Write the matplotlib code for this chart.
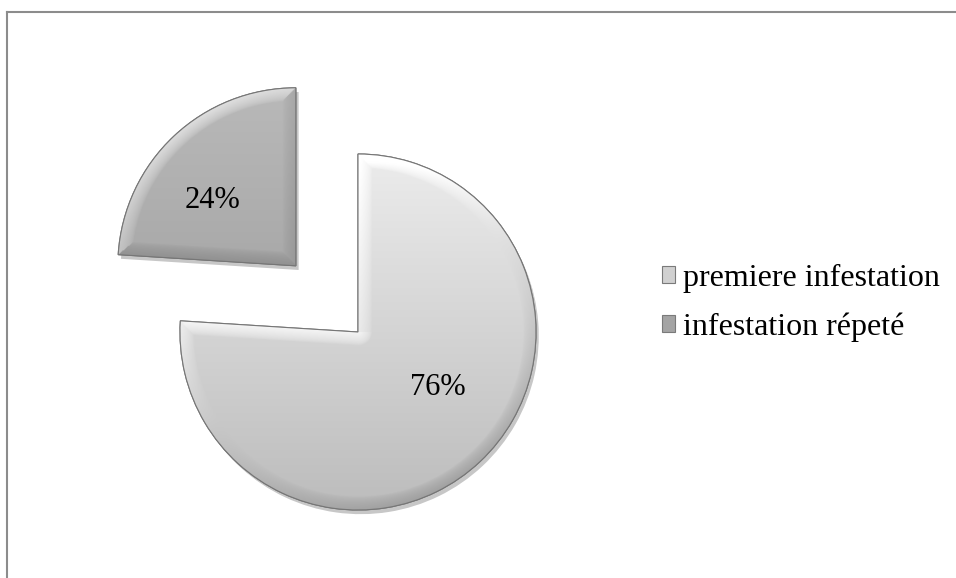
import numpy as np
import matplotlib
matplotlib.use("Agg")
import matplotlib.pyplot as plt
from matplotlib.lines import Line2D
from matplotlib.patches import Rectangle, Wedge
import matplotlib.patheffects as pe

labels = ["premiere infestation", "infestation répeté"]
values = [76, 24]
pct_labels = ["76%", "24%"]
explode = [0.0, 0.51]
base_colors = ["#d6d6d6", "#a8a8a8"]

plt.rcParams['font.family'] = ['Liberation Serif', 'DejaVu Serif']

W, H = 956, 578
fig = plt.figure(figsize=(W / 100, H / 100), dpi=100)
ax = fig.add_axes([0, 0, 1, 1])
R_PX = 178.0
CX, CY = 358.0, 332.0

wedges, _ = ax.pie(values, startangle=90, counterclock=False, explode=explode,
                   radius=1.0, colors=base_colors,
                   wedgeprops=dict(edgecolor="#6e6e6e", linewidth=0.8))


def shade_image(wedge, top_col, bot_col, n=400):
    cx, cy = wedge.center
    r = wedge.r
    t1, t2 = wedge.theta1, wedge.theta2
    span = t2 - t1
    xs = np.linspace(cx - r, cx + r, n)
    ys = np.linspace(cy + r, cy - r, n)
    X, Y = np.meshgrid(xs, ys)
    dx, dy = X - cx, Y - cy
    rho = np.hypot(dx, dy)
    phi = np.degrees(np.arctan2(dy, dx))
    a = np.mod(phi - t1, 360.0)
    tfrac = (Y - (cy - r)) / (2 * r)
    top = np.array(matplotlib.colors.to_rgb(top_col))
    bot = np.array(matplotlib.colors.to_rgb(bot_col))
    img = bot[None, None, :] + (top - bot)[None, None, :] * tfrac[..., None]
    d_arc = r - rho
    n_arc = np.stack([np.cos(np.radians(phi)), np.sin(np.radians(phi))], -1)
    d1 = np.where(a < 90, rho * np.sin(np.radians(a)), rho)
    d2 = np.where(span - a < 90, rho * np.sin(np.radians(np.clip(span - a, 0, 360))), rho)
    n1a = np.radians(t1 - 90)
    n2a = np.radians(t2 + 90)
    n1 = np.array([np.cos(n1a), np.sin(n1a)])
    n2 = np.array([np.cos(n2a), np.sin(n2a)])
    dmin = np.minimum(np.minimum(d_arc, d1), d2)
    nx = np.where(dmin == d_arc, n_arc[..., 0], np.where(dmin == d1, n1[0], n2[0]))
    ny = np.where(dmin == d_arc, n_arc[..., 1], np.where(dmin == d1, n1[1], n2[1]))
    L = np.array([-0.55, 0.83])
    dot = nx * L[0] + ny * L[1]
    w = 0.075
    band = np.clip(1 - dmin / w, 0, 1) ** 0.6
    shade = np.where(dot > 0, dot * 0.16, dot * 0.12) * band
    img = np.clip(img + shade[..., None], 0, 1)
    im = ax.imshow(img, extent=[cx - r, cx + r, cy - r, cy + r], zorder=wedge.get_zorder() + 0.1,
                   interpolation='bilinear', aspect='auto')
    im.set_clip_path(wedge)
    return im


shade_image(wedges[0], "#ececec", "#bcbcbc")
shade_image(wedges[1], "#b9b9b9", "#999999")

for wdg in wedges:
    wdg.set_path_effects([pe.SimplePatchShadow(offset=(2, -3), shadow_rgbFace='k', alpha=0.22),
                          pe.Normal()])
    ax.add_patch(Wedge(wdg.center, wdg.r, wdg.theta1, wdg.theta2,
                       fill=False, edgecolor="#767676", linewidth=0.8,
                       zorder=wdg.get_zorder() + 0.2))

label_pos = [(0.45, -0.31), (-0.82, 0.74)]
for txt, (x, y) in zip(pct_labels, label_pos):
    ax.text(x, y, txt, ha='center', va='center', fontsize=22, color='black', zorder=10)

# fix the data scale after pie/imshow
ax.set_aspect('auto')
ax.set_xlim(-CX / R_PX, (W - CX) / R_PX)
ax.set_ylim(-(H - CY) / R_PX, CY / R_PX)
ax.axis('off')

handles = [Rectangle((0, 0), 1, 1, facecolor=c, edgecolor="#7a7a7a", linewidth=0.8)
           for c in ["#d0d0d0", "#a4a4a4"]]
fig.legend(handles, labels, loc='center left', bbox_to_anchor=(662 / W, (H - 303) / H),
           frameon=False, fontsize=23, handlelength=0.42, handleheight=0.42,
           handletextpad=0.25, labelspacing=0.6, borderpad=0, borderaxespad=0)

fig.add_artist(Line2D([7 / W, 7 / W], [0, 1 - 12 / H], color="#8c8c8c", linewidth=1.5,
                      transform=fig.transFigure))
fig.add_artist(Line2D([7 / W, 1], [1 - 12 / H, 1 - 12 / H], color="#8c8c8c", linewidth=1.5,
                      transform=fig.transFigure))

fig.savefig("out.png", dpi=100, facecolor="white")
